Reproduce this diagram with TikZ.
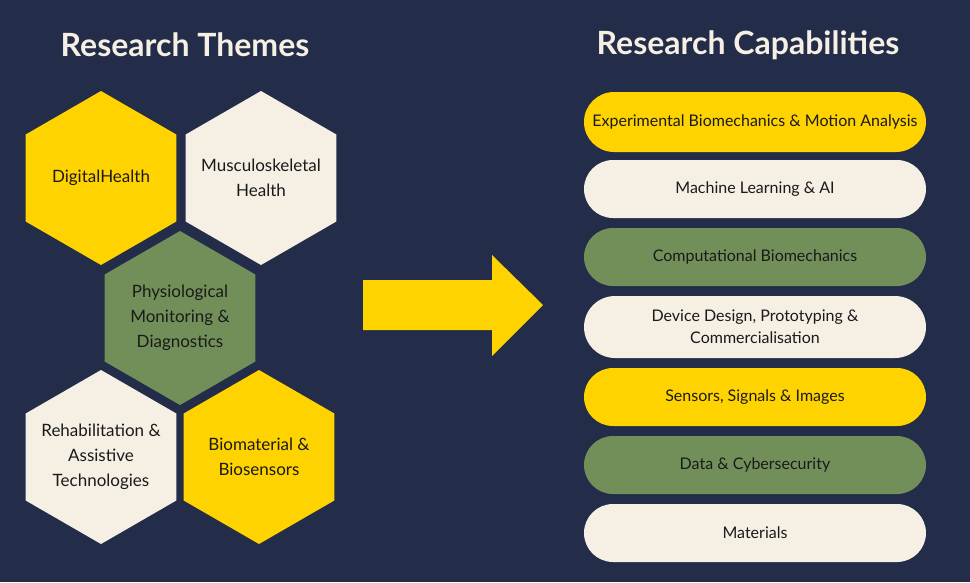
\documentclass[tikz,border=0pt]{standalone}
\usepackage{fontspec}
\setmainfont{Lato}
\usetikzlibrary{shapes.misc}
\definecolor{navy}{HTML}{232C48}
\definecolor{ylw}{HTML}{FFD300}
\definecolor{crm}{HTML}{F5EFE4}
\definecolor{grn}{HTML}{728F5A}
\definecolor{ink}{HTML}{1A1A1A}
\newcommand\hexshape[2]{\fill[#2] (#1) ++(90:87) -- ++(210:87) -- ++(270:87) -- ++(330:87) -- ++(30:87) -- ++(90:87) -- cycle;}
\tikzset{
 hexlabel/.style={inner sep=0pt,text=ink,font=\fontsize{17}{25}\selectfont,align=center},
 pill/.style={rounded rectangle,minimum width=342pt,minimum height=#1,inner sep=0pt,text=ink,font=\fontsize{16}{22}\selectfont,align=center},
 title/.style={text=crm,font=\fontsize{32}{36}\bfseries\selectfont}
}
\begin{document}
\begin{tikzpicture}[x=1pt,y=-1pt]
\fill[navy] (0,0) rectangle (970,582);
\useasboundingbox (0,0) rectangle (970,582);
\node[title] (t1) at (185,45) {Research Themes};
\node[title] (t2) at (748,45) {Research Capabilities};
\coordinate (c1) at (101,178);
\coordinate (c2) at (261,178);
\coordinate (c3) at (180,318);
\coordinate (c4) at (101,457);
\coordinate (c5) at (259,457);
\hexshape{c1}{ylw}
\hexshape{c2}{crm}
\hexshape{c3}{grn}
\hexshape{c4}{crm}
\hexshape{c5}{ylw}
\node[hexlabel] (h1) at (c1) {DigitalHealth};
\node[hexlabel] (h2) at (c2) {Musculoskeletal\\Health};
\node[hexlabel] (h3) at (c3) {Physiological\\Monitoring \&\\Diagnostics};
\node[hexlabel] (h4) at (c4) {Rehabilitation \&\\Assistive\\Technologies};
\node[hexlabel] (h5) at (c5) {Biomaterial \&\\Biosensors};
\fill[ylw] (363,280) -- (492,280) -- (492,255) -- (543,305) -- (492,356) -- (492,330) -- (363,330) -- cycle;
\node[pill=60pt,fill=ylw] (p1) at (755,122) {Experimental Biomechanics \& Motion Analysis};
\node[pill=58pt,fill=crm] (p2) at (755,189) {Machine Learning \& AI};
\node[pill=58pt,fill=grn] (p3) at (755,257) {Computational Biomechanics};
\node[pill=62pt,fill=crm] (p4) at (755,327) {Device Design, Prototyping \&\\Commercialisation};
\node[pill=58pt,fill=ylw] (p5) at (755,397) {Sensors, Signals \& Images};
\node[pill=58pt,fill=grn] (p6) at (755,465) {Data \& Cybersecurity};
\node[pill=58pt,fill=crm] (p7) at (755,533) {Materials};
\end{tikzpicture}
\end{document}
